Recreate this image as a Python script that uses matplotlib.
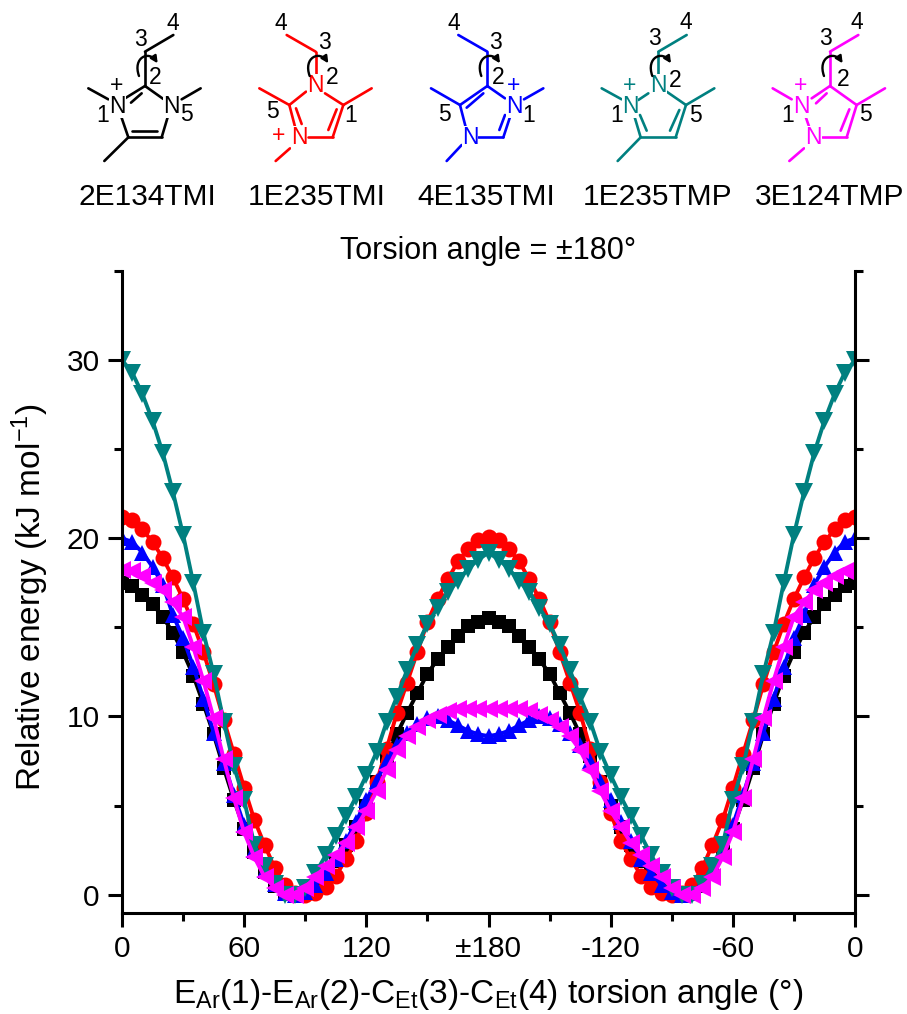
import numpy as np
import matplotlib
matplotlib.use("Agg")
import matplotlib.pyplot as plt
from matplotlib.patches import FancyArrowPatch
from matplotlib.path import Path

plt.rcParams['font.family'] = ['Liberation Sans', 'DejaVu Sans']
plt.rcParams['mathtext.fontset'] = 'custom'
plt.rcParams['mathtext.rm'] = 'Liberation Sans'
plt.rcParams['mathtext.default'] = 'rm'

W, H = 907, 1014

# torsion angle grid: 0..180 by 5 degrees, curves are mirror-symmetric about 180
half_angles = list(range(0, 185, 5))
e_2E134TMI = [17.5, 17.3, 16.8, 16.3, 15.6, 14.7, 13.6, 12.3, 10.7, 9.0, 7.1, 5.3, 3.7, 2.4, 1.3, 0.5, 0.1, 0.0, 0.1,
              0.5, 1.1, 1.9, 2.8, 3.8, 5.0, 6.3, 7.8, 9.0, 10.2, 11.3, 12.4, 13.2, 13.9, 14.5, 15.05, 15.3, 15.5]
e_1E235TMI = [21.2, 21.0, 20.5, 19.8, 18.9, 17.8, 16.6, 15.2, 13.6, 11.8, 9.8, 7.9, 6.0, 4.2, 2.8, 1.5, 0.55, 0.1, 0.0,
              0.1, 0.45, 1.05, 2.0, 3.0, 4.6, 6.3, 8.2, 10.2, 11.9, 13.6, 15.3, 16.6, 17.7, 18.7, 19.4, 19.9, 20.1]
e_4E135TMI = [20.0, 19.8, 19.2, 18.4, 17.4, 15.7, 14.4, 12.8, 11.0, 9.1, 7.4, 5.6, 3.9, 2.5, 1.4, 0.6, 0.1, 0.0, 0.15,
              0.55, 1.2, 2.0, 3.0, 4.1, 5.3, 6.4, 7.5, 8.4, 9.1, 9.6, 9.9, 10.0, 9.8, 9.5, 9.2, 9.0, 8.9]
e_1E235TMP = [30.0, 29.3, 28.1, 26.6, 24.8, 22.6, 20.2, 17.5, 14.7, 12.4, 9.7, 7.2, 5.3, 2.8, 1.6, 0.6, 0.0, 0.0, 0.4,
              1.2, 2.2, 3.3, 4.4, 5.5, 6.7, 8.0, 9.7, 11.1, 12.6, 14.0, 15.2, 16.1, 17.0, 17.6, 18.3, 18.8, 19.2]
e_3E124TMP = [18.2, 18.15, 17.9, 17.5, 17.1, 16.4, 15.6, 13.9, 12.0, 9.9, 7.6, 5.4, 3.5, 2.1, 1.0, 0.4, 0.0, 0.0, 0.4,
              1.0, 1.6, 2.2, 2.9, 3.8, 4.7, 5.8, 7.0, 8.1, 8.9, 9.4, 9.8, 10.1, 10.3, 10.4, 10.4, 10.4, 10.4]

names = ['2E134TMI', '1E235TMI', '4E135TMI', '1E235TMP', '3E124TMP']
colors = ['black', '#FF0000', '#0000FF', '#008080', '#FF00FF']
markers = ['s', 'o', '^', 'v', '<']
msizes = [10.5, 11.5, 12, 13, 13.5]
series = [e_2E134TMI, e_1E235TMI, e_4E135TMI, e_1E235TMP, e_3E124TMP]

xtick_pos = [0, 60, 120, 180, 240, 300, 360]
xtick_labels = ['0', '60', '120', '±180', '-120', '-60', '0']
ytick_pos = [0, 10, 20, 30]

fig = plt.figure(figsize=(W / 100, H / 100), dpi=100, facecolor='white')
L, R, T, B = 122, 855, 271, 912.5
ax = fig.add_axes([L / W, 1 - B / H, (R - L) / W, (B - T) / H])

x_half = np.array(half_angles, float)
x_full = np.concatenate([x_half, 360 - x_half[-2::-1]])
for vals, c, m, ms in zip(series, colors, markers, msizes):
    v = np.array(vals)
    y = np.concatenate([v, v[-2::-1]])
    ax.plot(x_full, y, color=c, marker=m, ms=ms, mec=c, mew=0, lw=2.8)

ax.set_xlim(0, 360)
ax.set_ylim(-1, 35)
ax.spines['top'].set_visible(False)
for s in ['left', 'right', 'bottom']:
    ax.spines[s].set_linewidth(2.2)
    ax.spines[s].set_zorder(5)
ax.set_xticks(xtick_pos)
ax.set_xticklabels(xtick_labels)
ax.set_xticks(np.arange(30, 360, 60), minor=True)
ax.set_yticks(ytick_pos)
ax.set_yticks(np.arange(5, 40, 10), minor=True)
ax.tick_params(axis='both', which='major', direction='out', length=10, width=2.2, labelsize=21.5)
ax.tick_params(axis='both', which='minor', direction='out', length=5.5, width=2.2)
ax.tick_params(axis='y', which='both', left=True, right=True)
ax.tick_params(axis='x', which='major', pad=6)
ax.tick_params(axis='y', which='major', pad=6)

# overlay in pixel coordinates for the text and the structures
ov = fig.add_axes([0, 0, 1, 1], facecolor='none')
ov.set_xlim(0, W)
ov.set_ylim(H, 0)
ov.axis('off')

ov.text(488, 995, r"E$_{\mathrm{Ar}}$(1)-E$_{\mathrm{Ar}}$(2)-C$_{\mathrm{Et}}$(3)-C$_{\mathrm{Et}}$(4) torsion angle (°)",
        fontsize=24, ha='center', va='center')
ov.text(30, 597, r"Relative energy (kJ mol$^{-1}$)", fontsize=24, rotation=90, ha='center', va='center')
ov.text(488, 251, "Torsion angle = ±180°", fontsize=22, ha='center', va='center')

name_x = [147, 317, 486, 658, 830]
for nx, n in zip(name_x, names):
    ov.text(nx, 197, n, fontsize=21.5, ha='center', va='center')

# structures: coordinates in units of 1/3 px of the picture
mol_bonds = [
    [((520,105),(435,155)),((435,155),(435,258)),((265,265),(325,298)),((602,265),(545,298)),((385,412),(313,483)),
     ((435,258),(375,295)),((425,280),(393,308)),((435,258),(490,297)),((362,345),(385,412)),((385,412),(485,412)),
     ((395,393),(470,393)),((485,412),(505,345))],
    [((860,105),(947,155)),((947,155),(947,235)),((975,280),(1030,315)),((918,275),(868,315)),((1115,265),(1030,315)),
     ((778,265),(868,315)),((870,445),(827,483)),((868,315),(885,380)),((888,325),(905,372)),((925,412),(998,412)),
     ((998,412),(1030,315)),((985,390),(1010,328))],
    [((1375,105),(1462,155)),((1462,155),(1462,258)),((1630,265),(1572,298)),((1293,265),(1380,315)),((1385,435),(1340,483)),
     ((1462,258),(1380,315)),((1450,280),(1400,323)),((1462,258),(1515,295)),((1380,315),(1398,385)),((1435,412),(1510,412)),
     ((1510,412),(1532,345)),((1498,390),(1515,345))],
    [((2060,105),(1975,155)),((1975,155),(1975,235)),((1805,265),(1865,298)),((2143,265),(2058,315)),((1922,412),(1853,483)),
     ((1915,300),(1945,280)),((2000,275),(2058,315)),((1902,345),(1922,412)),((1920,345),(1940,392)),((1922,412),(2027,412)),
     ((2027,412),(2058,315)),((2010,392),(2038,330))],
    [((2575,105),(2490,155)),((2490,155),(2490,258)),((2318,265),(2375,298)),((2655,265),(2570,315)),((2412,445),(2368,483)),
     ((2490,258),(2435,295)),((2480,280),(2448,310)),((2490,258),(2570,315)),((2415,345),(2428,382)),((2465,412),(2540,412)),
     ((2540,412),(2570,315)),((2522,392),(2548,328))],
]
# (text, x, y, coloured?)
mol_labels = [
    [('4',517,70,0),('3',420,118,0),('2',467,232,0),('1',307,345,0),('5',558,343,0),('+',350,258,0),
     ('N',352,320,1),('N',515,320,1)],
    [('4',842,70,0),('3',973,128,0),('2',997,232,0),('1',1053,345,0),('5',818,336,0),('+',835,408,1),
     ('N',945,258,1),('N',897,412,1)],
    [('4',1360,70,0),('3',1485,128,0),('2',1495,232,0),('1',1587,345,0),('5',1333,343,0),('+',1542,258,1),
     ('N',1542,320,1),('N',1410,412,1)],
    [('4',2058,68,0),('3',1962,115,0),('2',2025,242,0),('1',1850,345,0),('5',2087,345,0),('+',1890,258,1),
     ('N',1890,320,1),('N',1975,258,1)],
    [('4',2570,68,0),('3',2475,115,0),('2',2530,238,0),('1',2363,345,0),('5',2597,343,0),('+',2402,258,1),
     ('N',2405,320,1),('N',2440,412,1)],
]
arrow_center = [435, 947, 1462, 1975, 2490]

for bonds, labels, c, ac in zip(mol_bonds, mol_labels, colors, arrow_center):
    for (p, q) in bonds:
        ov.plot([p[0] / 3, q[0] / 3], [p[1] / 3, q[1] / 3], color=c, lw=1.9, solid_capstyle='round')
    for t, x, y, col in labels:
        ov.text(x / 3, y / 3, t, color=c if col else 'black', fontsize=16.5, ha='center', va='center',
                bbox=dict(fc='white', ec='none', pad=0.2) if t == 'N' else None, zorder=4)
    arc = Path([((ac - 18) / 3, 228 / 3), ((ac - 38) / 3, 172 / 3), ((ac + 12) / 3, 150 / 3), ((ac + 38) / 3, 190 / 3)],
               [Path.MOVETO, Path.CURVE4, Path.CURVE4, Path.CURVE4])
    ov.add_patch(FancyArrowPatch(path=arc, arrowstyle='-|>', mutation_scale=10,
                                 color='black', lw=1.7, shrinkA=0, shrinkB=0, zorder=5))

fig.savefig('out.png', dpi=100, facecolor='white')
